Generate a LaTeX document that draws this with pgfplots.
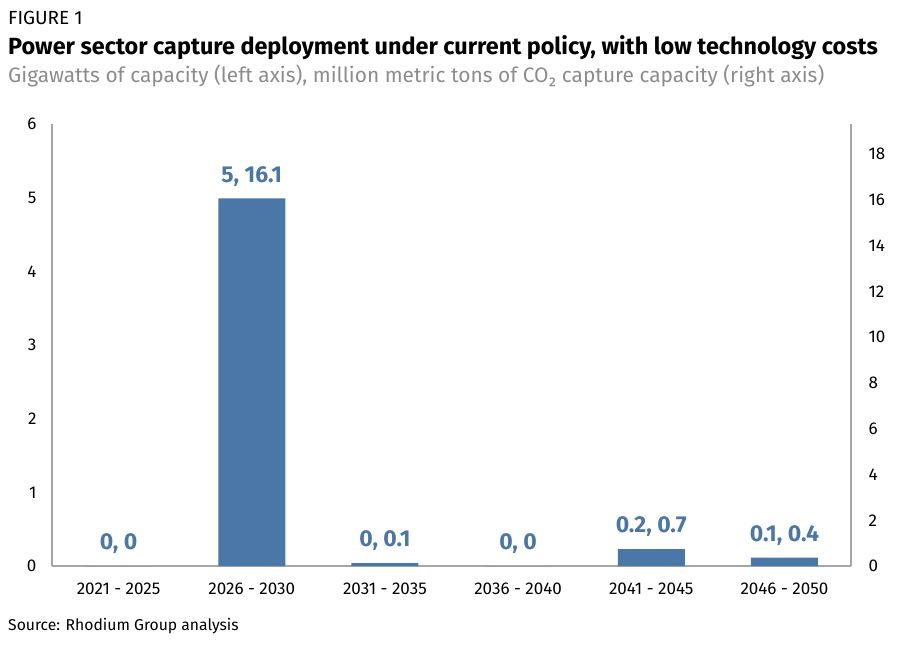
\documentclass[border=0pt]{standalone}
\usepackage{fontspec}
\setmainfont{Fira Sans}
\usepackage{pgfplots}
\pgfplotsset{compat=1.18}
\usepackage{pgfplotstable}
\definecolor{barblue}{HTML}{4A76A8}
\definecolor{axgray}{HTML}{A6A6A6}
\definecolor{subgray}{HTML}{8C8C8C}
\pgfplotstableread{
x y label
0 0 {0, 0}
1 4.99 {5, 16.1}
2 0.04 {0, 0.1}
3 0 {0, 0}
4 0.23 {0.2, 0.7}
5 0.115 {0.1, 0.4}
}\datatable
\begin{document}
\begin{tikzpicture}[x=1pt,y=1pt]
\path[use as bounding box] (0,0) rectangle (900,646);
\node[anchor=base west, inner sep=0, font=\fontsize{19}{21}\selectfont] at (8,621) {FIGURE 1};
\node[anchor=base west, inner sep=0, font=\fontsize{23.4}{26}\selectfont\bfseries] at (8,591) {Power sector capture deployment under current policy, with low technology costs};
\node[anchor=base west, inner sep=0, text=subgray, font=\fontsize{20.9}{23}\selectfont] at (8,563) {Gigawatts of capacity (left axis), million metric tons of CO₂ capture capacity (right axis)};
\node[anchor=base west, inner sep=0, font=\fontsize{15.7}{18}\selectfont] at (8,16) {Source: Rhodium Group analysis};
\begin{axis}[
  at={(52pt,80pt)}, anchor=south west,
  scale only axis, width=799pt, height=442pt,
  xmin=-0.5, xmax=5.5, ymin=0, ymax=6,
  axis y line*=left, axis x line*=bottom,
  axis line style={axgray, line width=1.3pt},
  ybar, bar width=67pt,
  xtick=data, xticklabels={2021 - 2025,2026 - 2030,2031 - 2035,2036 - 2040,2041 - 2045,2046 - 2050},
  ytick={0,1,...,6},
  major tick length=0pt,
  ticklabel style={font=\fontsize{17}{19}\selectfont},
  /pgf/number format/assume math mode=true,
  yticklabel style={xshift=-12pt},
  xticklabel style={yshift=-13pt},
  nodes near coords, point meta=explicit symbolic,
  every node near coord/.append style={anchor=center, yshift=22pt, text=barblue, font=\fontsize{23}{25}\selectfont\bfseries},
  clip=false,
]
\addplot[fill=barblue, draw=none, bar shift=0pt] table[x=x, y=y, meta=label] {\datatable};
\end{axis}
\begin{axis}[
  at={(52pt,80pt)}, anchor=south west,
  scale only axis, width=799pt, height=442pt,
  xmin=-0.5, xmax=5.5, ymin=0, ymax=19.32,
  axis y line*=right, axis x line=none,
  axis line style={axgray, line width=1.3pt},
  ytick={0,2,...,18},
  major tick length=0pt,
  ticklabel style={font=\fontsize{17}{19}\selectfont},
  /pgf/number format/assume math mode=true,
  yticklabel style={xshift=14pt},
]
\addplot[draw=none] coordinates {(0,0)};
\end{axis}
\end{tikzpicture}
\end{document}
